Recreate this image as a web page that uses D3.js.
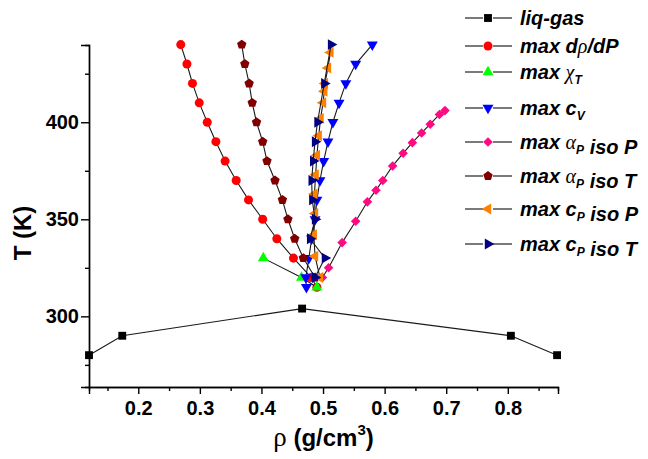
<!DOCTYPE html>
<html>
<head>
<meta charset="utf-8">
<script src="https://cdn.jsdelivr.net/npm/d3@7"></script>
<style>
    body { margin: 0; background: #fff; }
    svg { display: block; font-family: "Liberation Sans", Arial, sans-serif; }
</style>
</head>
<body>
<svg id="chart" width="648" height="459"></svg>
<script>
//Liquid-gas coexistence
let liqGasRho = [0.12, 0.174, 0.466, 0.805, 0.88];
let liqGasT = [280, 290, 304, 290, 280];

//max d(rho)/dP
let drhoRho = [0.490, 0.481, 0.452, 0.425, 0.402, 0.379, 0.359, 0.341, 0.326, 0.312, 0.299, 0.288, 0.279, 0.269];
let drhoT = [315, 320, 330, 340, 350, 360, 370, 380, 390, 400, 410, 420, 430, 440];

//max chi_T
let chiRho = [0.403, 0.465, 0.490];
let chiT = [330, 320, 315];

//max c_V
let cvRho = [0.473, 0.472, 0.477, 0.4815, 0.487, 0.490, 0.495, 0.501, 0.508, 0.516, 0.526, 0.537, 0.553, 0.580];
let cvT = [315, 320, 330, 340, 350, 360, 370, 380, 390, 400, 410, 420, 430, 440];

//max alpha_P along isobars
let alphaPRho = [0.499, 0.509, 0.531, 0.553, 0.572, 0.586, 0.597, 0.613, 0.630, 0.645, 0.660, 0.674, 0.689, 0.698];
let alphaPT = [320, 325, 338, 349, 359, 365, 370, 377.5, 384, 389.5, 394.5, 399, 404, 406];

//max alpha_P along isotherms
let alphaTRho = [0.487, 0.468, 0.454, 0.443, 0.434, 0.422, 0.409, 0.402, 0.392, 0.385, 0.380, 0.373, 0.368];
let alphaTT = [320, 330, 340, 350, 360, 370, 380, 390, 400, 410, 420, 430, 440];

//max c_P along isobars
let cpPRho = [0.495, 0.487, 0.485, 0.487, 0.486, 0.488, 0.490, 0.493, 0.496, 0.500, 0.502, 0.503, 0.508, 0.512];
let cpPT = [320, 331, 342, 353, 363, 373, 383, 393, 402, 410, 416, 420, 428, 436];

//max c_P along isotherms
let cpTRho = [0.487, 0.503, 0.479, 0.487, 0.4825, 0.4815, 0.484, 0.487, 0.491, 0.502, 0.513];
let cpTT = [320, 330, 340, 350, 360, 370, 380, 390, 400, 420, 440];

//Axis ticks
let xTicks = [0.2, 0.3, 0.4, 0.5, 0.6, 0.7, 0.8];
let xMinorTicks = [0.15, 0.25, 0.35, 0.45, 0.55, 0.65, 0.75, 0.85];
let yTicks = [300, 350, 400];
let yMinorTicks = [275, 325, 375, 425];

let legendLabels = ["liq-gas", "max dρ/dP", "max χ_T", "max c_V", "max α_P iso P", "max α_P iso T", "max c_P iso P", "max c_P iso T"];

//Pentagon symbol (not in d3 by default)
let symbolPentagon = {
    draw(context, size) {
        let r = Math.sqrt(size / 2.3776);
        for (let i = 0; i < 5; i++) {
            let a = -Math.PI / 2 + i * 2 * Math.PI / 5;
            if (i === 0) context.moveTo(r * Math.cos(a), r * Math.sin(a));
            else context.lineTo(r * Math.cos(a), r * Math.sin(a));
        }
        context.closePath();
    }
};

//Series list: data + marker style
let series = [
    {rho: liqGasRho, T: liqGasT, color: "#000000", type: d3.symbolSquare, size: 62, rot: 0},
    {rho: drhoRho, T: drhoT, color: "#ff0000", type: d3.symbolCircle, size: 64, rot: 0},
    {rho: chiRho, T: chiT, color: "#00ff00", type: d3.symbolTriangle, size: 52, rot: 0},
    {rho: cvRho, T: cvT, color: "#0000ff", type: d3.symbolTriangle, size: 52, rot: 180},
    {rho: alphaPRho, T: alphaPT, color: "#ff0a82", type: d3.symbolSquare, size: 46, rot: 45},
    {rho: alphaTRho, T: alphaTT, color: "#800000", type: symbolPentagon, size: 58, rot: 0},
    {rho: cpPRho, T: cpPT, color: "#ff8000", type: d3.symbolTriangle, size: 52, rot: -90},
    {rho: cpTRho, T: cpTT, color: "#000080", type: d3.symbolTriangle, size: 52, rot: 90}
];

let svg = d3.select("#chart");
let plotLeft = 89, plotRight = 558, plotTop = 45, plotBottom = 387;

let x = d3.scaleLinear().domain([0.12, 0.8815]).range([plotLeft, plotRight]);
let y = d3.scaleLinear().domain([263.6, 439.8]).range([plotBottom, plotTop]);

//Draw every series: thin line then markers
let line = d3.line().x(d => x(d[0])).y(d => y(d[1]));
series.forEach(s => {
    let pts = s.rho.map((r, i) => [r, s.T[i]]);
    svg.append("path")
        .datum(pts)
        .attr("fill", "none")
        .attr("stroke", "#1a1a1a")
        .attr("stroke-width", 1.1)
        .attr("d", line);
    svg.append("g")
        .selectAll("path")
        .data(pts)
        .enter().append("path")
        .attr("d", d3.symbol().type(s.type).size(s.size))
        .attr("transform", d => "translate(" + x(d[0]) + "," + y(d[1]) + ") rotate(" + s.rot + ")")
        .attr("fill", s.color);
});

//Axes (left + bottom only, outward ticks)
let styleAxis = g => {
    g.select(".domain").attr("stroke", "#000").attr("stroke-width", 1.4);
    g.selectAll(".tick line").attr("stroke", "#000").attr("stroke-width", 1.4);
    g.selectAll("text")
        .attr("fill", "#000")
        .attr("font-size", "20px")
        .attr("font-weight", "bold")
        .attr("font-family", "Liberation Sans, Arial, sans-serif");
};

svg.append("g")
    .attr("transform", "translate(0," + plotBottom + ")")
    .call(d3.axisBottom(x).tickValues(xTicks).tickSize(7).tickPadding(7).tickFormat(d3.format(".1f")))
    .call(styleAxis);
svg.append("g")
    .attr("transform", "translate(0," + plotBottom + ")")
    .call(d3.axisBottom(x).tickValues(xMinorTicks).tickSize(4).tickFormat(""))
    .call(styleAxis);
svg.append("g")
    .attr("transform", "translate(" + plotLeft + ",0)")
    .call(d3.axisLeft(y).tickValues(yTicks).tickSize(8).tickPadding(2))
    .call(styleAxis);
svg.append("g")
    .attr("transform", "translate(" + plotLeft + ",0)")
    .call(d3.axisLeft(y).tickValues(yMinorTicks).tickSize(4).tickFormat(""))
    .call(styleAxis);

//Axis titles
let xTitle = svg.append("text")
    .attr("x", (plotLeft + plotRight) / 2)
    .attr("y", 446)
    .attr("text-anchor", "middle")
    .attr("font-size", "24px")
    .attr("font-weight", "bold");
xTitle.append("tspan").attr("font-family", "Liberation Serif, serif").attr("font-weight", "normal").attr("font-size", "27px").text("ρ");
xTitle.append("tspan").text(" (g/cm");
xTitle.append("tspan").attr("font-size", "15px").attr("dy", -11).text("3");
xTitle.append("tspan").attr("dy", 11).text(")");

svg.append("text")
    .attr("transform", "translate(31,233) rotate(-90)")
    .attr("text-anchor", "middle")
    .attr("font-size", "24px")
    .attr("font-weight", "bold")
    .text("T (K)");

//Legend
let legendY = [18, 46, 72, 108, 142, 176, 209, 244];
let greek = "ρχα";
let legend = svg.append("g");
series.forEach((s, i) => {
    let ly = legendY[i];
    let row = legend.append("g");
    row.append("line").attr("x1", 465).attr("x2", 483).attr("y1", ly).attr("y2", ly)
        .attr("stroke", "#222").attr("stroke-width", 1.2);
    row.append("line").attr("x1", 493).attr("x2", 512).attr("y1", ly).attr("y2", ly)
        .attr("stroke", "#222").attr("stroke-width", 1.2);
    row.append("path")
        .attr("d", d3.symbol().type(s.type).size(s.size))
        .attr("transform", "translate(488," + ly + ") rotate(" + s.rot + ")")
        .attr("fill", s.color);

    let t = row.append("text")
        .attr("x", 520)
        .attr("y", ly + 7)
        .attr("font-size", "20px")
        .attr("font-weight", "bold")
        .attr("font-style", "italic");
    //split the label into plain text, greek letters and subscripts
    let label = legendLabels[i];
    let buf = "";
    let flush = () => { if (buf) { t.append("tspan").text(buf); buf = ""; } };
    for (let k = 0; k < label.length; k++) {
        let c = label[k];
        if (greek.includes(c)) {
            flush();
            t.append("tspan")
                .attr("font-family", "Liberation Serif, serif")
                .attr("font-weight", "normal")
                .text(c);
        } else if (c === "_") {
            flush();
            t.append("tspan").attr("font-size", "12px").attr("dy", 5).text(label[k + 1]);
            t.append("tspan").attr("dy", -5).text("");
            k++;
        } else {
            buf += c;
        }
    }
    flush();
});
</script>
</body>
</html>
